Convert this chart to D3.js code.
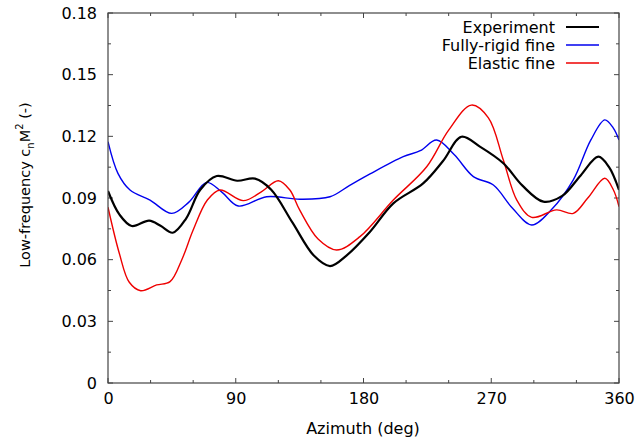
<!DOCTYPE html>
<html><head><meta charset="utf-8">
<script src="https://cdn.jsdelivr.net/npm/d3@7"></script>
<style>html,body{margin:0;padding:0;background:#fff;}svg{display:block;}</style>
</head><body>
<svg id="c" width="639" height="445"></svg>
<script>
const xTicks = [0, 90, 180, 270, 360];
const yTicks = [0, 0.03, 0.06, 0.09, 0.12, 0.15, 0.18];
const seriesNames = ["Experiment", "Fully-rigid fine", "Elastic fine"];
const seriesColors = ["#000000", "#0000ee", "#ee0000"];

const experiment = [[0,0.0934],[8,0.082],[16.7,0.0764],[29,0.079],[37,0.0765],[45.6,0.0731],[55,0.080],[65,0.094],[76.6,0.1007],[91,0.0984],[103.6,0.0994],[115,0.094],[130,0.078],[145,0.062],[156.4,0.0569],[168,0.062],[184.6,0.0736],[201,0.0874],[222,0.0971],[236,0.108],[249,0.1198],[262,0.115],[278.5,0.1069],[292,0.096],[306.7,0.0882],[320,0.091],[333,0.101],[345.4,0.1101],[353,0.105],[360,0.0939]];
const rigid = [[0,0.1174],[7,0.102],[15.5,0.0939],[29.6,0.089],[44.9,0.0825],[57,0.088],[69.5,0.0976],[80,0.093],[91.8,0.0861],[111.8,0.0906],[135.3,0.0894],[156.4,0.0906],[170,0.096],[184.6,0.1017],[208,0.1101],[220,0.113],[231.5,0.1182],[244,0.111],[257.4,0.1004],[271.5,0.0963],[285,0.085],[298.5,0.0769],[312,0.084],[327.8,0.0988],[340,0.118],[350,0.128],[356,0.124],[360,0.1182]];
const elastic = [[0,0.0855],[8,0.063],[15,0.049],[23,0.0449],[34.3,0.0477],[43.7,0.0493],[52,0.060],[60,0.0744],[70,0.089],[78.9,0.0939],[95.3,0.0887],[108,0.093],[120,0.0984],[128,0.094],[135,0.0842],[148,0.070],[161,0.0647],[177.5,0.0712],[201,0.089],[224.5,0.1052],[240,0.123],[256,0.1352],[268,0.129],[278.5,0.1085],[288,0.089],[298.5,0.0806],[316,0.0842],[327.8,0.0825],[338,0.090],[350,0.0996],[356,0.094],[360,0.0858]];
const seriesData = [experiment, rigid, elastic];

const svg = d3.select("#c");
const m = {l:108, r:619, t:13, b:383};
const x = d3.scaleLinear().domain([0,360]).range([m.l, m.r]);
const y = d3.scaleLinear().domain([0,0.18]).range([m.b, m.t]);
const font = "DejaVu Sans, sans-serif";
const axCol = "#444";

const g = svg.append("g");
const xMinor = d3.range(0, 361, 30);
const yMinor = d3.range(0, 0.1801, 0.015);
xMinor.forEach(v => {
  const len = (v % 90 === 0) ? 5 : 3;
  g.append("line").attr("x1", x(v)).attr("x2", x(v)).attr("y1", m.b).attr("y2", m.b - len).attr("stroke", axCol);
  g.append("line").attr("x1", x(v)).attr("x2", x(v)).attr("y1", m.t).attr("y2", m.t + len).attr("stroke", axCol);
});
yMinor.forEach((v,i) => {
  const len = (i % 2 === 0) ? 5 : 3;
  g.append("line").attr("y1", y(v)).attr("y2", y(v)).attr("x1", m.l).attr("x2", m.l + len).attr("stroke", axCol);
  g.append("line").attr("y1", y(v)).attr("y2", y(v)).attr("x1", m.r).attr("x2", m.r - len).attr("stroke", axCol);
});

const xAxis = d3.axisBottom(x).tickValues(xTicks).tickSize(0).tickPadding(10).tickFormat(d3.format("d"));
const yAxis = d3.axisLeft(y).tickValues(yTicks).tickSize(0).tickPadding(11).tickFormat(d => d === 0 ? "0" : d3.format(".2f")(d));
const gx = svg.append("g").attr("transform", `translate(0,${m.b})`).call(xAxis);
const gy = svg.append("g").attr("transform", `translate(${m.l},0)`).call(yAxis);
[gx, gy].forEach(a => {
  a.select(".domain").remove();
  a.selectAll("text").attr("font-family", font).attr("font-size", 16).attr("fill", "#000");
});

const line = d3.line().x(d => x(d[0])).y(d => y(d[1])).curve(d3.curveCatmullRom.alpha(0.5));
svg.append("clipPath").attr("id", "pc").append("rect").attr("x", m.l).attr("y", m.t).attr("width", m.r - m.l).attr("height", m.b - m.t);
const widths = [2.2, 1.4, 1.4];
[1,2,0].forEach(i => {
  svg.append("path").datum(seriesData[i]).attr("d", line).attr("fill", "none")
    .attr("stroke", seriesColors[i]).attr("stroke-width", widths[i]).attr("clip-path", "url(#pc)");
});

svg.append("rect").attr("x", m.l).attr("y", m.t).attr("width", m.r - m.l).attr("height", m.b - m.t)
  .attr("fill", "none").attr("stroke", axCol).attr("stroke-width", 1.2);

seriesNames.forEach((n, i) => {
  const yy = 27 + i * 18;
  svg.append("text").attr("x", 555).attr("y", yy + 5.5).attr("text-anchor", "end")
    .attr("font-family", font).attr("font-size", 16).attr("fill", "#000").text(n);
  svg.append("line").attr("x1", 566).attr("x2", 599).attr("y1", yy).attr("y2", yy)
    .attr("stroke", seriesColors[i]).attr("stroke-width", widths[i]);
});

svg.append("text").attr("x", 363).attr("y", 434).attr("text-anchor", "middle")
  .attr("font-family", font).attr("font-size", 16).attr("fill", "#000").text("Azimuth (deg)");
const yl = svg.append("text").attr("transform", `translate(30,185) rotate(-90)`)
  .attr("text-anchor", "middle").attr("font-family", font).attr("font-size", 14.5).attr("fill", "#000");
yl.append("tspan").text("Low-frequency c");
yl.append("tspan").attr("font-size", 10).attr("dy", 4).text("n");
yl.append("tspan").attr("dy", -4).text("M");
yl.append("tspan").attr("font-size", 10).attr("dy", -7).text("2");
yl.append("tspan").attr("dy", 7).text(" (-)");
</script>
</body></html>
